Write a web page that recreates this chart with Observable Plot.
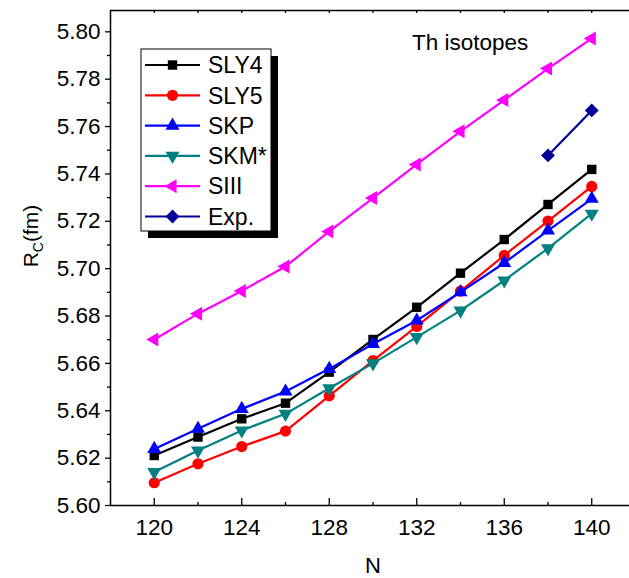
<!DOCTYPE html>
<html><head><meta charset="utf-8">
<script src="https://cdn.jsdelivr.net/npm/d3@7"></script>
<script src="https://cdn.jsdelivr.net/npm/@observablehq/plot@0.6"></script>
<style>
html,body{margin:0;padding:0;background:#fff;overflow:hidden}
#chart{position:relative;width:629px;height:578px}
</style></head><body><div id="chart"></div>
<script>
// ---- data ----
const N = [120,122,124,126,128,130,132,134,136,138,140];
const SLY4 = [5.6211,5.6289,5.6366,5.6432,5.6563,5.6701,5.6837,5.6981,5.7123,5.7271,5.7419];
const SLY5 = [5.6096,5.6176,5.6249,5.6314,5.6463,5.6612,5.6756,5.6905,5.7056,5.7201,5.7347];
const SKP  = [5.6239,5.6324,5.6408,5.6481,5.6577,5.6682,5.6781,5.6901,5.7024,5.7161,5.7295];
const SKM  = [5.6141,5.6232,5.6317,5.6387,5.6495,5.6600,5.6711,5.6823,5.6950,5.7086,5.7232];
const SIII = [5.6701,5.6810,5.6906,5.7009,5.7157,5.7298,5.7440,5.7580,5.7712,5.7845,5.7972];
const expN = [138,140];
const expR = [5.7478,5.7668];
const seriesNames = ["SLY4","SLY5","SKP","SKM*","SIII","Exp."];
const xTicks = [120,124,128,132,136,140];
const xMinor = [122,126,130,134,138];
const topTicks = [120,122,124,126,128,130,132,134,136,138,140];
const yTicks = [5.60,5.62,5.64,5.66,5.68,5.70,5.72,5.74,5.76,5.78,5.80];
const yMinor = [5.61,5.63,5.65,5.67,5.69,5.71,5.73,5.75,5.77,5.79];

// ---- custom symbols ----
const s3 = Math.sqrt(3);
const triDown = {draw(ctx, size){ const y = -Math.sqrt(size/(s3*3)); ctx.moveTo(0,-2*y); ctx.lineTo(-s3*y,y); ctx.lineTo(s3*y,y); ctx.closePath(); }};
const triLeft = {draw(ctx, size){ const y = -Math.sqrt(size/(s3*3)); ctx.moveTo(2*y,0); ctx.lineTo(-y,-s3*y); ctx.lineTo(-y,s3*y); ctx.closePath(); }};
const diamondSq = {draw(ctx, size){ const r = Math.sqrt(size/2); ctx.moveTo(0,-r); ctx.lineTo(r,0); ctx.lineTo(0,r); ctx.lineTo(-r,0); ctx.closePath(); }};

const styles = [
  {name:"SLY4", ys:SLY4, xs:N, color:"#000000", symbol:"square", r:5.3},
  {name:"SLY5", ys:SLY5, xs:N, color:"#ff0000", symbol:"circle", r:5.6},
  {name:"SKP",  ys:SKP,  xs:N, color:"#0000ff", symbol:"triangle", r:5.2},
  {name:"SKM*", ys:SKM,  xs:N, color:"#008080", symbol:triDown, r:5.2},
  {name:"SIII", ys:SIII, xs:N, color:"#ff00ff", symbol:triLeft, r:5.2},
  {name:"Exp.", ys:expR, xs:expN, color:"#000099", symbol:diamondSq, r:5.5}
];

const W = 629, H = 578, mL = 110, mR = -6, mT = 10, mB = 73;
const frameW = W - mR - mL, frameH = H - mT - mB;

const marks = [];
for (const s of styles) {
  const data = s.xs.map((x,i)=>({x, y:s.ys[i]}));
  marks.push(Plot.line(data, {x:"x", y:"y", stroke:s.color, strokeWidth:2.2}));
  marks.push(Plot.dot(data, {x:"x", y:"y", fill:s.color, stroke:"none", symbol:s.symbol, r:s.r}));
}

const chart = Plot.plot({
  width: W, height: H,
  marginLeft: mL, marginRight: mR, marginTop: mT, marginBottom: mB,
  x: {domain:[118,142]},
  y: {domain:[5.60,5.809]},
  style: {fontFamily:"'Liberation Sans', Arial, sans-serif", fontSize:"22.5px", background:"white", color:"black"},
  marks: [
    ...marks,
    Plot.frame({stroke:"black", strokeWidth:1.5}),
    Plot.ruleX(xTicks, {x:d=>d, insetTop: frameH-7, stroke:"black", strokeWidth:1.3}),
    Plot.ruleX(xMinor, {x:d=>d, insetTop: frameH-3, stroke:"black", strokeWidth:1.3}),
    Plot.ruleX(topTicks, {x:d=>d, insetBottom: frameH-3, stroke:"black", strokeWidth:1.3}),
    Plot.ruleY(yTicks, {y:d=>d, insetLeft:-5, insetRight: frameW, stroke:"black", strokeWidth:1.3}),
    Plot.ruleY(yMinor, {y:d=>d, insetLeft:-3, insetRight: frameW, stroke:"black", strokeWidth:1.3}),
    Plot.axisX({ticks:xTicks, tickSize:0, tickPadding:14, label:null, tickFormat:d=>String(d)}),
    Plot.axisY({ticks:yTicks, tickSize:0, tickPadding:10, label:null, tickFormat:d3.format(".2f")})
  ]
});
document.getElementById("chart").appendChild(chart);

// ---- annotations & legend ----
const svg = d3.select(chart);
const font = "'Liberation Sans', Arial, sans-serif";
svg.append("text").attr("x",373).attr("y",573).attr("text-anchor","middle")
  .attr("font-family",font).attr("font-size",22).text("N");
const yl = svg.append("text").attr("transform","translate(38,236) rotate(-90)").attr("text-anchor","middle")
  .attr("font-family",font).attr("font-size",21);
yl.append("tspan").text("R");
yl.append("tspan").attr("font-size",14).attr("dy",5).text("C");
yl.append("tspan").attr("dy",-5).text("(fm)");
svg.append("text").attr("x",412).attr("y",50).attr("text-anchor","start").attr("font-family",font).attr("font-size",22.5).text("Th isotopes");

const lg = svg.append("g").attr("text-anchor","start");
const bx = 141, by = 49, bw = 130, bh = 182;
lg.append("rect").attr("x",bx+7).attr("y",by+7).attr("width",bw).attr("height",bh).attr("fill","black");
lg.append("rect").attr("x",bx).attr("y",by).attr("width",bw).attr("height",bh).attr("fill","white").attr("stroke","black").attr("stroke-width",1);
styles.forEach((s,i)=>{
  const cy = 65 + i*30.3;
  lg.append("line").attr("x1",145).attr("x2",200).attr("y1",cy).attr("y2",cy).attr("stroke",s.color).attr("stroke-width",2.2);
  const typ = typeof s.symbol === "string" ? ({square:d3.symbolSquare,circle:d3.symbolCircle,triangle:d3.symbolTriangle})[s.symbol] : s.symbol;
  lg.append("path").attr("transform",`translate(172.5,${cy})`).attr("d", d3.symbol(typ, Math.PI*s.r*s.r)()).attr("fill",s.color);
  lg.append("text").attr("x",208).attr("y",cy).attr("dy","0.36em").attr("font-family",font).attr("font-size",23).text(seriesNames[i]);
});
</script>
</body></html>
